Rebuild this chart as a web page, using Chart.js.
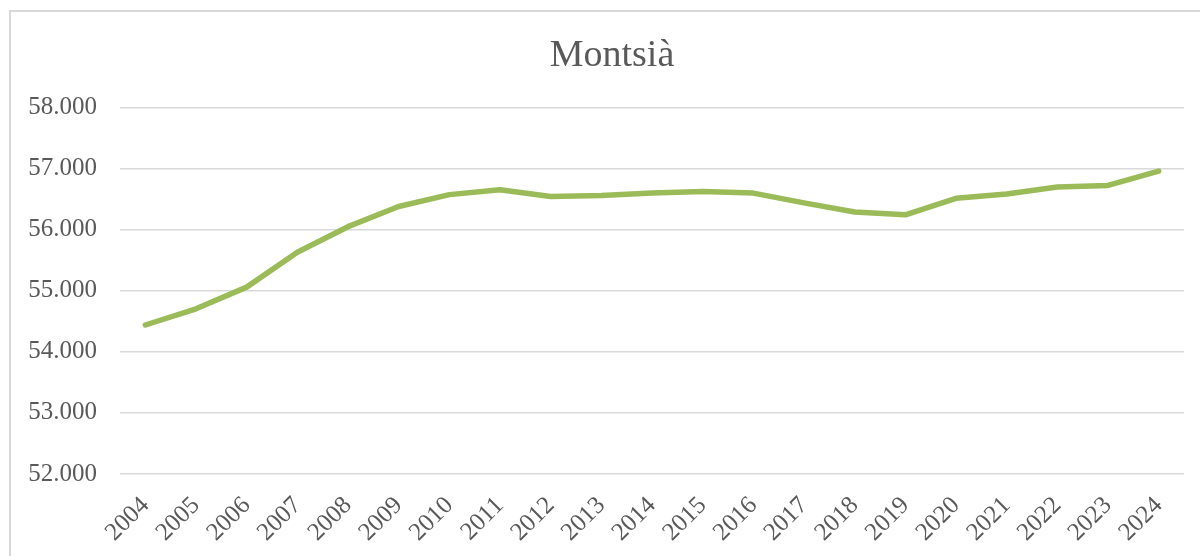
<!DOCTYPE html>
<html>
<head>
<meta charset="utf-8">
<script src="https://cdn.jsdelivr.net/npm/chart.js@4.4.1/dist/chart.umd.min.js"></script>
<style>
    html, body { margin: 0; padding: 0; background: #fff; overflow: hidden; }
    #marc {
        position: absolute; left: 9px; top: 10px; width: 1220px; height: 580px;
        border-left: 2px solid #d9d9d9; border-top: 2px solid #d9d9d9;
    }
    #grafic { position: absolute; left: 0; top: 0; }
</style>
</head>
<body>
<div id="marc"></div>
<canvas id="grafic" width="1200" height="556"></canvas>
<script>
const anys = ['2004', '2005', '2006', '2007', '2008', '2009', '2010', '2011', '2012', '2013',
    '2014', '2015', '2016', '2017', '2018', '2019', '2020', '2021', '2022', '2023', '2024']
const poblacio = [54440, 54705, 55060, 55630, 56050, 56380, 56575, 56655, 56545, 56560,
    56600, 56628, 56600, 56440, 56290, 56245, 56515, 56585, 56700, 56725, 56960]
const titol = 'Montsià'
const eixMin = 52000
const eixMax = 58000
const pas = 1000

const gris = '#595959'
const font = 'Liberation Serif'

// 58000 -> "58.000"
const formatMilers = (v) => {
    const s = String(Math.round(v))
    return s.replace(/\B(?=(\d{3})+(?!\d))/g, '.')
}

// el títol queda centrat sobre el marc, no sobre tot el canvas
const desplacaTitol = {
    id: 'desplacaTitol',
    afterLayout: (chart) => {
        if (chart.titleBlock) chart.titleBlock.left = 40
    }
}

const ctx = document.getElementById('grafic').getContext('2d')

new Chart(ctx, {
    type: 'line',
    data: {
        labels: anys,
        datasets: [{
            label: titol,
            data: poblacio,
            borderColor: '#9bbb59',
            backgroundColor: '#9bbb59',
            borderWidth: 5.5,
            borderCapStyle: 'round',
            borderJoinStyle: 'round',
            pointRadius: 0,
            tension: 0,
            fill: false
        }]
    },
    plugins: [desplacaTitol],
    options: {
        responsive: false,
        animation: false,
        layout: { padding: { left: 0, right: 16, top: 0, bottom: 0 } },
        plugins: {
            legend: { display: false },
            tooltip: { enabled: false },
            title: {
                display: true,
                text: titol,
                color: gris,
                font: { family: font, size: 38, weight: 'normal' },
                padding: { top: 33, bottom: 29 }
            }
        },
        scales: {
            x: {
                offset: true,
                grid: { display: false, drawTicks: false },
                border: { display: false },
                ticks: {
                    color: gris,
                    font: { family: font, size: 25 },
                    maxRotation: 45,
                    minRotation: 45,
                    autoSkip: false,
                    padding: 17
                },
                afterFit: (scale) => { scale.height = 82 }
            },
            y: {
                min: eixMin,
                max: eixMax,
                grid: { color: '#d9d9d9', lineWidth: 1.5, drawTicks: false },
                border: { display: false },
                ticks: {
                    stepSize: pas,
                    color: gris,
                    font: { family: font, size: 25 },
                    padding: 23,
                    callback: (v) => formatMilers(v)
                },
                afterFit: (scale) => { scale.width = 120 }
            }
        }
    }
})
</script>
</body>
</html>
